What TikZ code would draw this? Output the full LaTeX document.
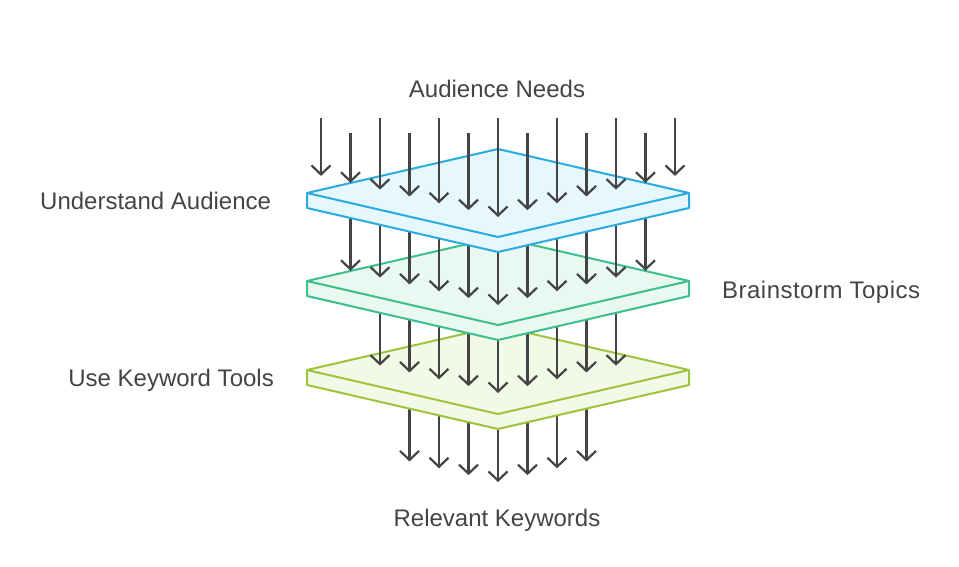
\documentclass[tikz,border=0pt]{standalone}
\usepackage{fontspec}
\setmainfont{Liberation Sans}
\usetikzlibrary{arrows.meta}
\definecolor{txt}{HTML}{444444}
\definecolor{arr}{HTML}{444444}
\definecolor{bluS}{HTML}{2AABE0}
\definecolor{bluF}{HTML}{E6F7FD}
\definecolor{grnS}{HTML}{3CBF8B}
\definecolor{grnF}{HTML}{E9F8F1}
\definecolor{ylwS}{HTML}{9CC43C}
\definecolor{ylwF}{HTML}{F2F9E6}
\tikzset{
  flowarrow/.style={draw=arr, line width=2.2pt, -{Straight Barb[length=9pt,width=19pt,line width=2.2pt]}},
  label/.style={font=\fontsize{24}{28}\selectfont, text=txt, inner sep=0pt, anchor=base},
  slabline/.style={line width=2pt, line join=round}
}
% \myslab{name}{center y}{stroke}{fill}
\newcommand{\myslab}[4]{%
  \coordinate (#1-l) at (307,#2);
  \coordinate (#1-t) at (498,#2-44);
  \coordinate (#1-r) at (689,#2);
  \coordinate (#1-b) at (498,#2+44);
  \coordinate (#1-ll) at (307,#2+15);
  \coordinate (#1-rl) at (689,#2+15);
  \coordinate (#1-bl) at (498,#2+59);
  \draw[slabline, draw=#3, fill=#4] (#1-l) -- (#1-t) -- (#1-r) -- (#1-rl) -- (#1-bl) -- (#1-ll) -- cycle;
  \draw[slabline, draw=#3] (#1-l) -- (#1-b) -- (#1-r);
}
% \myrow{name}{list of offsets k}{start y}{tip y at centre}
\newcommand{\myrow}[4]{%
  \foreach \k in {#2} {
    \pgfmathsetmacro{\xx}{498+29.5*\k}
    \pgfmathsetmacro{\yy}{#4-0.232*abs(29.5*\k)}
    \coordinate (#1-s\k) at (\xx,#3);
    \coordinate (#1-e\k) at (\xx,\yy);
    \draw[flowarrow] (#1-s\k) -- (#1-e\k);
  }
}
\begin{document}
\begin{tikzpicture}[x=1pt,y=-1pt]
\useasboundingbox (0,0) rectangle (959,567);
\fill[white] (0,0) rectangle (959,567);
% bottom row (behind yellow slab)
\myrow{r4}{-3,...,3}{400}{482}
\myslab{ylw}{370}{ylwS}{ylwF}
% third row (behind green slab)
\myrow{r3}{-4,...,4}{300}{393}
\myslab{grn}{281}{grnS}{grnF}
% second row (behind blue slab)
\myrow{r2}{-5,...,5}{210}{305}
\myslab{blu}{193}{bluS}{bluF}
% top row
\myrow{r1a}{-6,-4,-2,0,2,4,6}{118}{217}
\myrow{r1b}{-5,-3,-1,1,3,5}{133}{217}
% labels
\node[label] (needs) at (497,98) {Audience Needs};
\node[label, anchor=base west] (under) at (40,209) {Understand Audience};
\node[label, anchor=base west] (brain) at (722,298) {\addfontfeature{LetterSpace=2}Brainstorm Topics};
\node[label, anchor=base east] (usekw) at (274,386) {Use Keyword Tools};
\node[label] (relev) at (497,526) {Relevant Keywords};
\end{tikzpicture}
\end{document}
